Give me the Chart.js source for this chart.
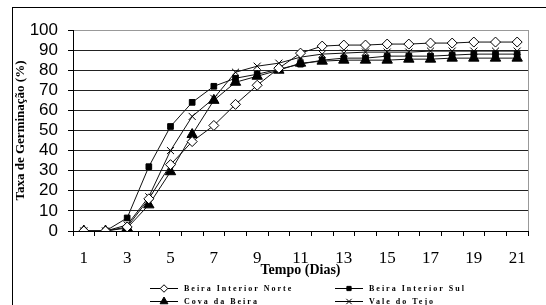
<!DOCTYPE html>
<html>
<head>
<meta charset="utf-8">
<script src="https://cdn.jsdelivr.net/npm/chart.js@4"></script>
<style>
  html, body { margin: 0; padding: 0; background: #fff; }
  #wrap { width: 546px; height: 305px; position: relative; }
</style>
</head>
<body>
<div id="wrap"><canvas id="germChart"></canvas></div>
<script>
// dias
const days = ['1','2','3','4','5','6','7','8','9','10','11','12','13','14','15','16','17','18','19','20','21'];

// taxa de germinacao (%) por regiao
const beiraNorte = [0, 0, 2, 16, 33, 44.5, 52.5, 63, 72.5, 81, 88.5, 92, 92.5, 92.5, 93, 93, 93.5, 93.5, 94, 94, 94];
const beiraSul   = [0, 0, 6.5, 32, 52, 64, 72, 76, 78, 80.5, 83, 85, 86, 86, 87, 87, 87, 87.5, 88, 88, 88];
const covaBeira  = [0, 0, 1.5, 13, 29.5, 48, 65, 74, 77, 80, 83.5, 84.5, 85, 85, 85, 85.5, 85.5, 86, 86, 86, 86];
const valeTejo   = [0, 0, 3, 17, 40, 57, 66, 79, 82, 83.5, 86.5, 88, 88.5, 89, 89, 89, 89.5, 89.5, 89.5, 89.5, 89.5];

const seriesNames = ['Beira Interior Norte', 'Beira Interior Sul', 'Cova da Beira', 'Vale do Tejo'];

// frame + right plot border + legend drawn by hand
const decoPlugin = {
  id: 'deco',
  beforeDraw(chart) {
    const c = chart.ctx;
    c.save();
    c.fillStyle = '#fff';
    c.fillRect(0, 0, chart.width, chart.height);
    c.strokeStyle = '#000';
    c.lineWidth = 1;
    c.strokeRect(12.5, 7.5, 600, 400);
    c.restore();
  },
  afterDraw(chart) {
    const c = chart.ctx;
    const a = chart.chartArea;
    c.save();
    c.strokeStyle = '#999';
    c.lineWidth = 1;
    c.beginPath();
    c.moveTo(Math.round(a.right) + 0.5, a.top);
    c.lineTo(Math.round(a.right) + 0.5, a.bottom);
    c.stroke();

    // legend, two columns
    const spots = [[150, 288], [335, 288], [150, 301], [335, 301]];
    chart.data.datasets.forEach((ds, i) => {
      const [x, y] = spots[i];
      c.strokeStyle = '#000';
      c.lineWidth = 1;
      c.beginPath();
      c.moveTo(x, y + 0.5);
      c.lineTo(x + 28, y + 0.5);
      c.stroke();
      c.fillStyle = ds.pointBackgroundColor;
      c.strokeStyle = '#000';
      Chart.helpers.drawPoint(c, {
        pointStyle: ds.pointStyle,
        radius: ds.pointRadius * 0.75,
        borderWidth: 1
      }, x + 14, y + 0.5);
      c.fillStyle = '#000';
      c.font = 'bold 8px "Liberation Serif"';
      c.letterSpacing = '2px';
      c.textBaseline = 'middle';
      c.fillText(ds.label, x + 34, y + 1);
    });
    c.restore();
  }
};

function mk(label, data, style, radius, fill) {
  return {
    label: label,
    data: data,
    borderColor: '#111',
    borderWidth: 1,
    pointStyle: style,
    pointRadius: radius,
    pointBackgroundColor: fill,
    pointBorderColor: '#000',
    pointBorderWidth: 1,
    tension: 0
  };
}

new Chart(document.getElementById('germChart'), {
  type: 'line',
  data: {
    labels: days,
    datasets: [
      mk(seriesNames[0], beiraNorte, 'rectRot', 5, '#fff'),
      mk(seriesNames[1], beiraSul, 'rect', 4, '#000'),
      mk(seriesNames[2], covaBeira, 'triangle', 6, '#000'),
      mk(seriesNames[3], valeTejo, 'crossRot', 5, '#000')
    ]
  },
  options: {
    responsive: true,
    maintainAspectRatio: false,
    animation: false,
    devicePixelRatio: 1,
    layout: { padding: { left: 12, right: 18, top: 30, bottom: 26 } },
    plugins: {
      legend: { display: false },
      tooltip: { enabled: false }
    },
    scales: {
      x: {
        type: 'category',
        offset: true,
        grid: { offset: true, drawOnChartArea: false, drawTicks: true, tickLength: 5, color: '#000' },
        border: { color: '#000', width: 1 },
        ticks: {
          autoSkip: false,
          maxRotation: 0,
          color: '#000',
          padding: 12,
          font: { family: '"Liberation Serif"', size: 17 },
          callback: function (v, i) { return i % 2 === 0 ? this.getLabelForValue(v) : ''; }
        },
        title: {
          display: true,
          text: 'Tempo (Dias)',
          color: '#000',
          font: { family: '"Liberation Serif"', size: 14, weight: 'bold' },
          padding: { top: 0, bottom: 0 }
        },
        afterFit: s => { s.height = 305 - 231 - 26; }
      },
      y: {
        min: 0,
        max: 100,
        ticks: {
          stepSize: 10,
          autoSkip: false,
          color: '#000',
          padding: 10,
          font: { family: '"Liberation Sans"', size: 17 }
        },
        grid: {
          color: ctx => (ctx.tick && ctx.tick.value === 100 ? '#999' : '#222'),
          tickColor: '#000',
          tickLength: 5
        },
        border: { color: '#000', width: 1 },
        title: {
          display: true,
          text: 'Taxa de Germinação (%)',
          color: '#000',
          font: { family: '"Liberation Serif"', size: 13, weight: 'bold' },
          padding: { top: 1, bottom: 1 }
        },
        afterFit: s => { s.width = 73 - 12; }
      }
    }
  },
  plugins: [decoPlugin]
});
</script>
</body>
</html>
